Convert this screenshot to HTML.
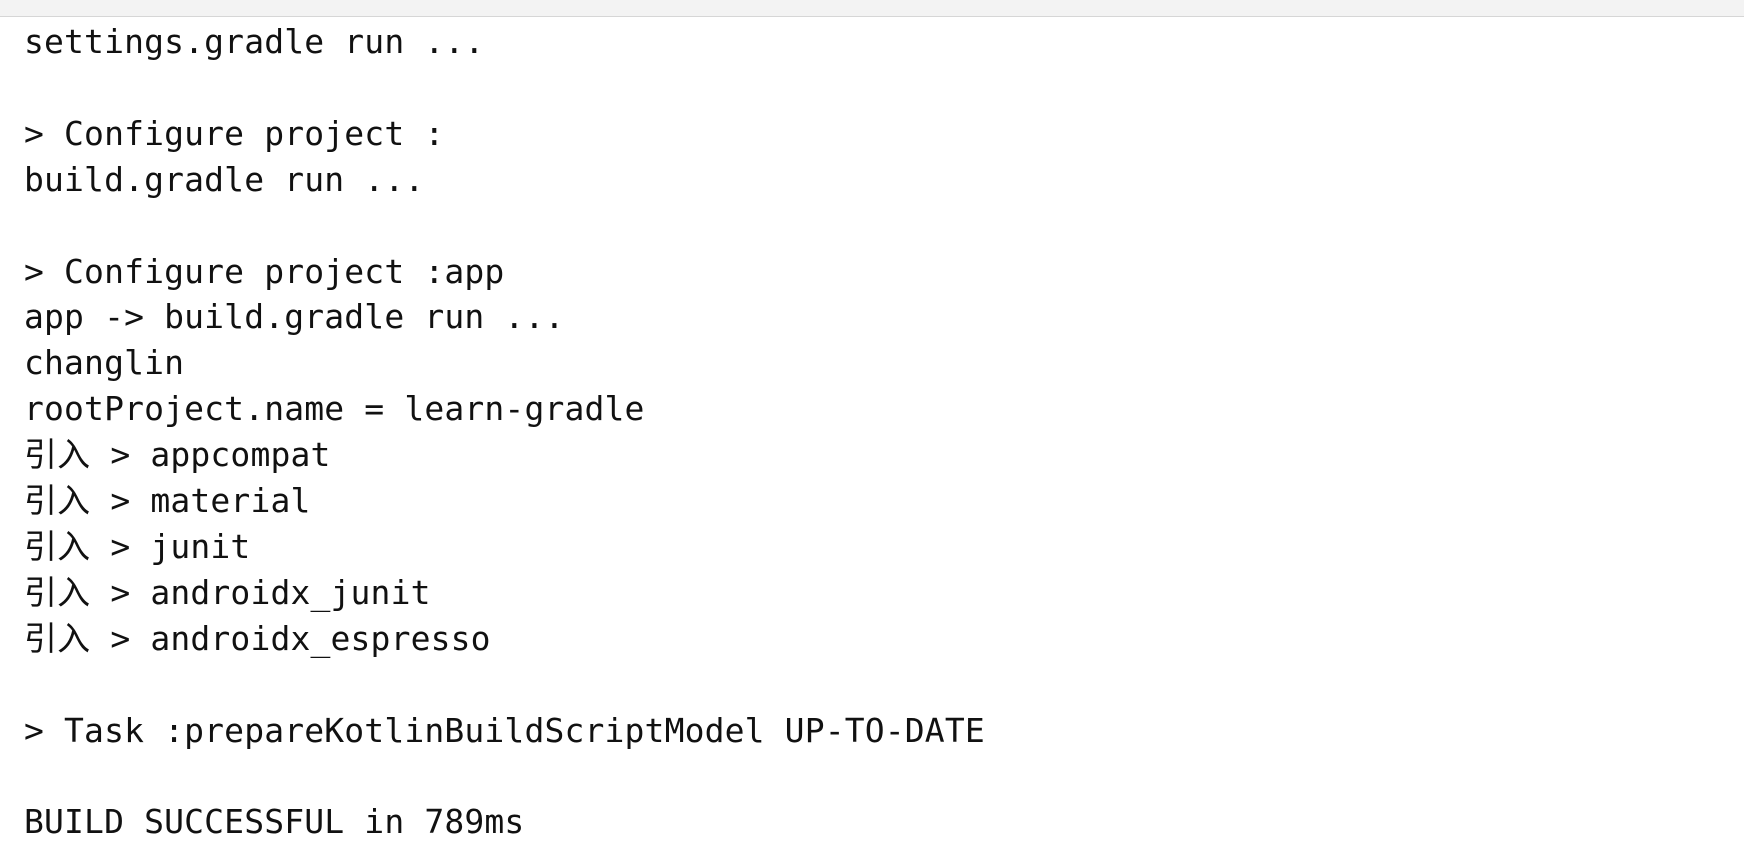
<!DOCTYPE html>
<html><head><meta charset="utf-8"><style>
html,body{margin:0;padding:0;background:#fff;width:1744px;height:852px;overflow:hidden}
.bar{height:16px;background:#f3f3f3;border-bottom:1px solid #d6d6d6}
pre{margin:0;padding:2px 0 0 24px;font-family:"DejaVu Sans Mono","Liberation Mono","Noto Sans CJK SC",monospace;font-size:33px;letter-spacing:0.15px;line-height:45.9px;color:#111}
</style></head><body>
<div class="bar"></div>
<pre>settings.gradle run ...

&gt; Configure project :
build.gradle run ...

&gt; Configure project :app
app -&gt; build.gradle run ...
changlin
rootProject.name = learn-gradle
引入 &gt; appcompat
引入 &gt; material
引入 &gt; junit
引入 &gt; androidx_junit
引入 &gt; androidx_espresso

&gt; Task :prepareKotlinBuildScriptModel UP-TO-DATE

BUILD SUCCESSFUL in 789ms</pre>
</body></html>
